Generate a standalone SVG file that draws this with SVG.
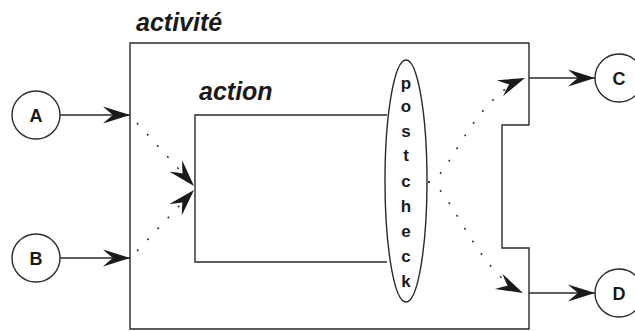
<svg xmlns="http://www.w3.org/2000/svg" width="635" height="332" viewBox="0 0 635 332">
<style>
.ln{fill:none;stroke:#2a2a2a;stroke-width:1.4}
.dot{fill:none;stroke:#2a2a2a;stroke-width:1.5;stroke-dasharray:2 13}
.lbl{font-family:"Liberation Sans",Arial,sans-serif;font-weight:bold;font-size:18px;fill:#1a1a1a;text-anchor:middle}
.ttl{font-family:"Liberation Sans",Arial,sans-serif;font-weight:bold;font-style:italic;font-size:25px;fill:#1a1a1a}
.pc{font-family:"Liberation Sans",Arial,sans-serif;font-weight:bold;font-size:17px;fill:#1a1a1a;text-anchor:middle}
</style>
<defs>
<marker id="ah" markerUnits="userSpaceOnUse" markerWidth="30" markerHeight="22" viewBox="-29 -11 30 22" refX="0" refY="0" orient="auto">
<path d="M0,0 L-27,-8.5 Q-21,-3 -17,0 Q-21,3 -27,8.5 Z" fill="#1a1a1a"/>
</marker>
</defs>
<g id="activite">
<path class="ln" d="M130,43 H529 V125 H502 V248 H529 V329 H130 Z"/>
<text class="ttl" x="136" y="31">activité</text>
</g>
<g id="action">
<path class="ln" d="M387,115 H195 V262 H387"/>
<text class="ttl" x="199" y="100">action</text>
</g>
<g id="postcheck">
<ellipse class="ln" cx="406" cy="181" rx="21" ry="121" fill="#fff"/>
<text class="pc" x="406" y="89">p</text>
<text class="pc" x="406" y="112">o</text>
<text class="pc" x="406" y="137">s</text>
<text class="pc" x="406" y="161">t</text>
<text class="pc" x="406" y="187">c</text>
<text class="pc" x="406" y="212">h</text>
<text class="pc" x="406" y="237">e</text>
<text class="pc" x="406" y="262">c</text>
<text class="pc" x="406" y="287">k</text>
</g>
<g id="A"><circle class="ln" cx="36" cy="115" r="24"/><text class="lbl" x="36" y="121.5">A</text></g>
<g id="B"><circle class="ln" cx="36" cy="258" r="24"/><text class="lbl" x="36" y="264.5">B</text></g>
<g id="C"><circle class="ln" cx="619" cy="78" r="24"/><text class="lbl" x="619" y="84.5">C</text></g>
<g id="D"><circle class="ln" cx="619" cy="293" r="24"/><text class="lbl" x="619" y="299.5">D</text></g>
<g id="connectors">
<line class="ln" x1="60" y1="115" x2="130" y2="115" marker-end="url(#ah)"/>
<line class="ln" x1="60" y1="258" x2="130" y2="258" marker-end="url(#ah)"/>
<line class="ln" x1="529" y1="78" x2="595" y2="78" marker-end="url(#ah)"/>
<line class="ln" x1="529" y1="293" x2="595" y2="293" marker-end="url(#ah)"/>
<path class="dot" d="M137,123 L194,186" marker-end="url(#ah)"/>
<path class="dot" d="M137,251 L194,190" marker-end="url(#ah)"/>
<path class="dot" d="M428,182 C448,182 470,100 525,78" marker-end="url(#ah)"/>
<path class="dot" d="M428,182 C448,182 475,270 523,293" marker-end="url(#ah)"/>
</g>
</svg>
